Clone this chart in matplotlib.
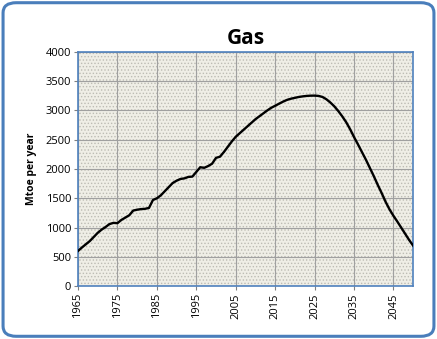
import matplotlib.pyplot as plt
from matplotlib.patches import FancyBboxPatch

years = list(range(1965, 2051))
gas = [
    600, 660, 715, 770, 840, 910, 965, 1010, 1060, 1080,
    1075, 1130, 1170, 1210, 1290, 1305, 1315, 1320, 1335, 1470,
    1500, 1550, 1620, 1690, 1760, 1800, 1830, 1840, 1865, 1870,
    1950, 2030, 2020, 2050, 2090, 2190, 2210, 2290, 2380, 2470,
    2550, 2610, 2670, 2730, 2790, 2850, 2900, 2950, 3000, 3045,
    3080, 3115, 3150, 3180, 3200, 3215, 3230, 3240, 3248, 3252,
    3253, 3248, 3230, 3190, 3135, 3070, 2990, 2900, 2800, 2680,
    2545, 2420, 2290, 2160, 2020, 1880, 1730, 1590, 1440, 1310,
    1200, 1100, 995, 890, 785, 690,
]
x_ticks = list(range(1965, 2050, 10))
y_ticks = list(range(0, 4001, 500))

plt.rcParams['font.family'] = ['Open Sans', 'DejaVu Sans']
plt.rcParams['hatch.linewidth'] = 0.6

fig = plt.figure(figsize=(4.37, 3.39), dpi=100)
fig.patch.set_facecolor('white')

# rounded blue frame around the whole chart
frame = FancyBboxPatch((0.007, 0.008), 0.986, 0.984,
                       boxstyle='round,pad=0,rounding_size=0.03',
                       transform=fig.transFigure, facecolor='white',
                       edgecolor='#4a7ebb', linewidth=2.2, zorder=-10)
fig.patches.append(frame)

ax = fig.add_axes([0.1785, 0.156, 0.767, 0.691])
ax.set_facecolor('#efeee6')
ax.fill_between([1965, 2050], 0, 4000, facecolor='none', hatch='.....',
                edgecolor='#bdbcb4', linewidth=0, zorder=0)

ax.plot(years, gas, color='black', linewidth=1.7, zorder=3)

ax.set_xlim(1965, 2050)
ax.set_ylim(0, 4000)
ax.set_xticks(x_ticks)
ax.set_xticklabels([str(y) for y in x_ticks], rotation=90, fontsize=8)
ax.set_yticks(y_ticks)
ax.set_yticklabels([str(v) for v in y_ticks], fontsize=8)
ax.grid(True, color='#a0a0a0', linewidth=0.8)
ax.set_axisbelow(True)
for s in ax.spines.values():
    s.set_color('#4f81bd')
    s.set_linewidth(1.2)
ax.tick_params(direction='out', length=3, width=0.8, color='#808080', pad=2)

ax.set_ylabel('Mtoe per year', fontsize=7.5, fontweight='bold', labelpad=6)
ax.set_title('Gas', fontsize=15, fontweight='bold', pad=6)

fig.savefig('out.png', dpi=100)
